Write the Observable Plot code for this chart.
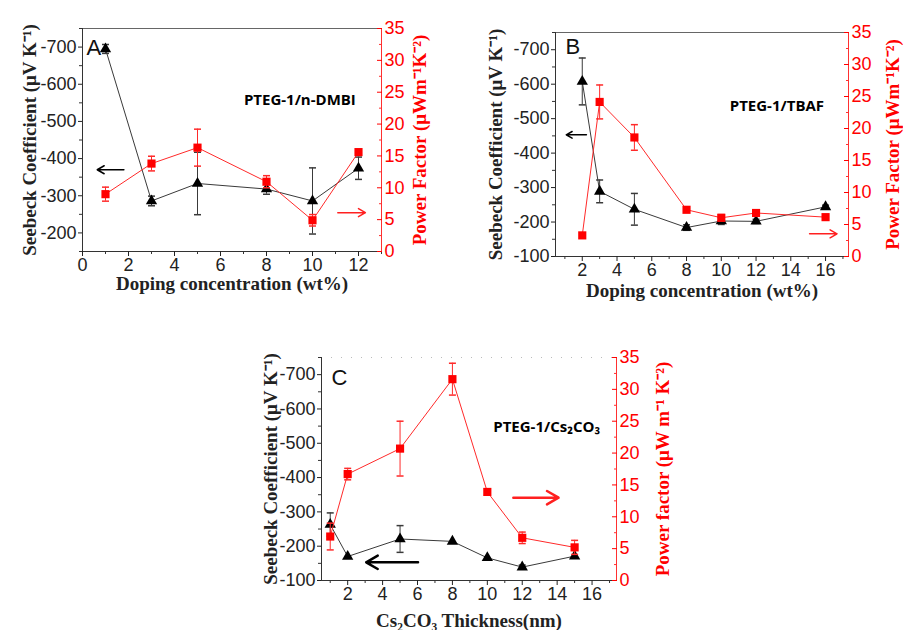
<!DOCTYPE html>
<html><head><meta charset="utf-8">
<script src="https://cdn.jsdelivr.net/npm/d3@7"></script>
<script src="https://cdn.jsdelivr.net/npm/@observablehq/plot@0.6"></script>
<style>
body{margin:0;background:#fff;}
#root{position:relative;width:903px;height:630px;overflow:hidden;background:#fff}
.layer{position:absolute}
.layer svg{overflow:visible}
.layer g[aria-label="y-axis label"] text,
.layer g[aria-label="x-axis label"] text{font-family:"Liberation Serif",serif;font-weight:bold;font-size:19px}
.pf g[aria-label="y-axis label"] text{fill:#ff0000}
</style></head><body><div id="root"></div>
<script>
// ---------- data ----------
// Panel A: PTEG-1/n-DMBI
const xA = [1, 3, 5, 8, 10, 12];
const seebeckA = [-695, -286, -333, -318, -286, -374];
const seebeckErrA = [12, 13, 84, 14, 89, 30];
const pfA = [9.0, 13.8, 16.3, 10.95, 4.9, 15.6];
const pfErrA = [1.1, 1.15, 2.9, 0.95, 0.9, 0];
// Panel B: PTEG-1/TBAF
const xB = [2, 3, 5, 8, 10, 12, 16];
const seebeckB = [-608, -289, -237, -184, -203, -202, -244];
const seebeckErrB = [68, 33, 46, 8, 10, 6, 5];
const pfB = [3.3, 24.15, 18.6, 7.3, 6.05, 6.8, 6.15];
const pfErrB = [0, 2.65, 2.0, 0, 0.5, 0, 0];
// Panel C: PTEG-1/Cs2CO3
const xC = [1, 2, 5, 8, 10, 12, 15];
const seebeckC = [-263, -170, -221, -214, -166, -139, -171];
const seebeckErrC = [34, 0, 39, 0, 0, 6, 0];
const pfC = [6.9, 16.7, 20.7, 31.6, 13.9, 6.7, 5.2];
const pfErrC = [2.1, 0.9, 4.3, 2.5, 0.5, 0.9, 1.1];

// ticks
const xTicksA = [0, 2, 4, 6, 8, 10, 12];
const xMinorA = [1, 3, 5, 7, 9, 11, 13];
const xTicksBC = [2, 4, 6, 8, 10, 12, 14, 16];
const xMinorBC = [1, 3, 5, 7, 9, 11, 13, 15, 17];
const yTicksA = [-700, -600, -500, -400, -300, -200];
const yTicksBC = [-700, -600, -500, -400, -300, -200, -100];
const yMinor = [-750, -650, -550, -450, -350, -250, -150];
const pfTicks = [0, 5, 10, 15, 20, 25, 30, 35];
const pfMinor = [2.5, 7.5, 12.5, 17.5, 22.5, 27.5, 32.5];

// labels / annotations
const seebeckLabel = "Seebeck Coefficient (\u03BCV K\u207B\u00B9)";
const pfLabelAB = "Power Factor (\u03BCWm\u207B\u00B9K\u207B\u00B2)";
const pfLabelC = "Power factor (\u03BCW m\u207B\u00B9 K\u207B\u00B2)";
const xLabelAB = "Doping concentration (wt%)";
const xLabelC = "Cs\u2082CO\u2083 Thickness(nm)";

const panels = [
  {id: "A", left: 0, top: 0, w: 440, h: 300, ml: 82, mr: 59, mt: 28, mb: 49,
   xDomain: [0, 13], yDomain: [-150, -750], xTicks: xTicksA, xMinor: xMinorA, yTicks: yTicksA,
   x: xA, s: seebeckA, se: seebeckErrA, pf: pfA, pe: pfErrA,
   xLabel: xLabelAB, pfLabel: pfLabelAB, yOff: 60, pOff: 44, xOff: 38,
   letter: {x: 0.17, y: -697, t: "A"}, note: {x: 9.45, y: -556, t: "PTEG-1/n-DMBI"},
   blackArrow: {x1: 1.8, x2: 0.64, y: -370}, redArrow: {x1: 11.1, x2: 12.3, y: 6.1}, arrowW: 1.5, topDash: false},
  {id: "B", left: 440, top: 0, w: 463, h: 300, ml: 115, mr: 55, mt: 32, mb: 44,
   xDomain: [0.46, 17.32], yDomain: [-100, -750], xTicks: xTicksBC, xMinor: xMinorBC, yTicks: yTicksBC,
   x: xB, s: seebeckB, se: seebeckErrB, pf: pfB, pe: pfErrB,
   xLabel: xLabelAB, pfLabel: pfLabelAB, yOff: 67, pOff: 50, xOff: 40,
   letter: {x: 1.04, y: -707, t: "B"}, note: {x: 13.2, y: -535, t: "PTEG-1/TBAF"},
   blackArrow: {x1: 2.24, x2: 1.08, y: -453}, redArrow: {x1: 15.08, x2: 16.66, y: 3.55}, arrowW: 1.5, topDash: false},
  {id: "C", left: 240, top: 330, w: 440, h: 300, ml: 81, mr: 64, mt: 27, mb: 50,
   xDomain: [0.5, 17.4], yDomain: [-100, -750], xTicks: xTicksBC, xMinor: xMinorBC, yTicks: yTicksBC,
   x: xC, s: seebeckC, se: seebeckErrC, pf: pfC, pe: pfErrC,
   xLabel: xLabelC, pfLabel: pfLabelC, yOff: 58, pOff: 52, xOff: 46,
   letter: {x: 1.07, y: -689, t: "C"}, note: {x: 13.4, y: -547, t: "PTEG-1/Cs\u2082CO\u2083"},
   blackArrow: {x1: 6.03, x2: 3.06, y: -153}, redArrow: {x1: 11.49, x2: 14.08, y: 13.0}, arrowW: 2.5, topDash: true}
];

const cap = {draw(ctx) { ctx.moveTo(-3.5, 0); ctx.lineTo(3.5, 0); }};
const root = document.getElementById("root");
const str = d => String(d);
const blank = () => "";

for (const p of panels) {
  const common = {
    width: p.w, height: p.h, marginLeft: p.ml, marginRight: p.mr, marginTop: p.mt, marginBottom: p.mb,
    style: {fontFamily: "Liberation Sans, Arial, sans-serif", fontSize: "18px", background: "transparent", overflow: "visible"}
  };
  const sData = p.x.map((x, i) => ({x, y: p.s[i], e: p.se[i]}));
  const fData = p.x.map((x, i) => ({x, y: p.pf[i], e: p.pe[i]}));
  const sErr = sData.filter(d => d.e > 0);
  const fErr = fData.filter(d => d.e > 0);

  const leftPlot = Plot.plot({
    ...common,
    x: {domain: p.xDomain},
    y: {domain: p.yDomain},
    marks: [
      p.topDash ? Plot.ruleY([p.yDomain[1]], {stroke: "#bbb", strokeDasharray: "1,9"})
                : Plot.ruleY([p.yDomain[1]], {stroke: "#666"}),
      Plot.ruleY([p.yDomain[0]], {stroke: "#333"}),
      Plot.ruleX([p.xDomain[0]], {stroke: "#333"}),
      Plot.axisX({ticks: p.xMinor, tickSize: 3, tickFormat: blank, label: null, color: "#333"}),
      Plot.axisX({ticks: p.xTicks, tickSize: 5, tickPadding: 2, tickFormat: str, color: "#222",
        label: p.xLabel, labelAnchor: "center", labelArrow: "none", labelOffset: p.xOff}),
      Plot.axisY({ticks: yMinor, tickSize: 3, tickFormat: blank, label: null, color: "#333"}),
      Plot.axisY({ticks: p.yTicks, tickSize: 4, tickPadding: 2, tickFormat: str, color: "#222",
        label: seebeckLabel, labelAnchor: "center", labelArrow: "none", labelOffset: p.yOff}),
      Plot.line(sData, {x: "x", y: "y", stroke: "#3a3a3a", strokeWidth: 1}),
      Plot.ruleX(sErr, {x: "x", y1: d => d.y - d.e, y2: d => d.y + d.e, stroke: "#3a3a3a", strokeWidth: 1}),
      Plot.dot(sErr, {x: "x", y: d => d.y - d.e, symbol: cap, r: 2, stroke: "#3a3a3a", fill: "none"}),
      Plot.dot(sErr, {x: "x", y: d => d.y + d.e, symbol: cap, r: 2, stroke: "#3a3a3a", fill: "none"}),
      Plot.dot(sData, {x: "x", y: "y", symbol: "triangle", r: 4.2, fill: "#000", stroke: "none"}),
      Plot.arrow([p.blackArrow], {x1: "x1", x2: "x2", y1: "y", y2: "y", stroke: "#000",
        strokeWidth: p.arrowW, headLength: 8}),
      Plot.text([p.note], {x: "x", y: "y", text: "t", fontFamily: "Open Sans, Liberation Sans, sans-serif",
        fontWeight: "bold", fontSize: 15, fill: "#000"}),
      Plot.text([p.letter], {x: "x", y: "y", text: "t", textAnchor: "start", fontSize: 22,
        fontFamily: "Liberation Sans, sans-serif", fill: "#111"})
    ]
  });

  const rightPlot = Plot.plot({
    ...common,
    x: {domain: p.xDomain, axis: null},
    y: {domain: [0, 35]},
    marks: [
      Plot.ruleX([p.xDomain[1]], {stroke: "#ff3030", strokeWidth: 1}),
      Plot.axisY({anchor: "right", ticks: pfMinor, tickSize: -3, tickPadding: 6, tickFormat: blank, label: null, color: "#ff3030"}),
      Plot.axisY({anchor: "right", ticks: pfTicks, tickSize: -5, tickPadding: 8, tickFormat: str, color: "#ff0000",
        label: p.pfLabel, labelAnchor: "center", labelArrow: "none", labelOffset: p.pOff}),
      Plot.line(fData, {x: "x", y: "y", stroke: "#ff2a2a", strokeWidth: 1}),
      Plot.ruleX(fErr, {x: "x", y1: d => d.y - d.e, y2: d => d.y + d.e, stroke: "#ff2a2a", strokeWidth: 1}),
      Plot.dot(fErr, {x: "x", y: d => d.y - d.e, symbol: cap, r: 2, stroke: "#ff2a2a", fill: "none"}),
      Plot.dot(fErr, {x: "x", y: d => d.y + d.e, symbol: cap, r: 2, stroke: "#ff2a2a", fill: "none"}),
      Plot.dot(fData, {x: "x", y: "y", symbol: "square", r: 4.6, fill: "#ff0000", stroke: "none"}),
      Plot.arrow([p.redArrow], {x1: "x1", x2: "x2", y1: "y", y2: "y", stroke: "#ff2020",
        strokeWidth: p.arrowW, headLength: 8})
    ]
  });

  for (const [svg, cls] of [[leftPlot, "sb"], [rightPlot, "pf"]]) {
    const div = document.createElement("div");
    div.className = "layer " + cls;
    div.style.left = p.left + "px";
    div.style.top = p.top + "px";
    div.appendChild(svg);
    root.appendChild(div);
  }
}
</script></body></html>
